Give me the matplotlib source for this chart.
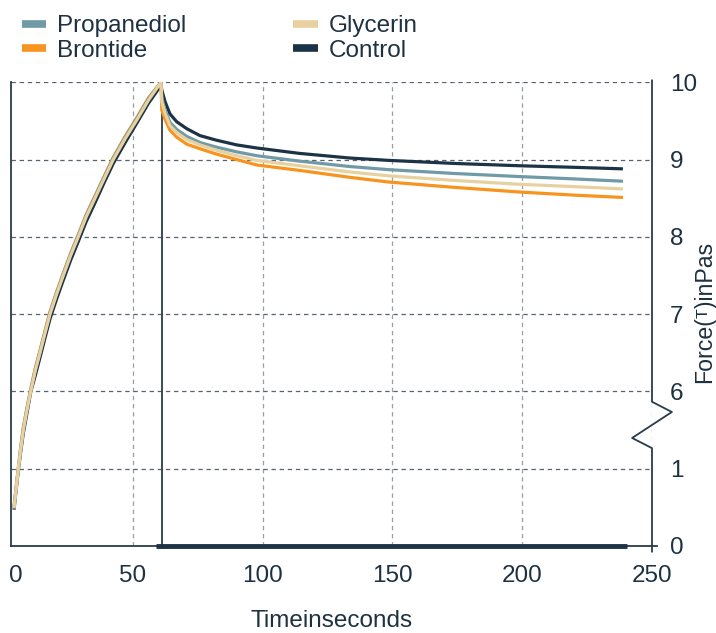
import matplotlib
matplotlib.use("Agg")
import matplotlib.pyplot as plt
import numpy as np
from matplotlib.lines import Line2D

plt.rcParams["font.family"] = ["Liberation Sans", "DejaVu Sans"]

TEXT = "#1e3142"
AXIS = "#2a3b4a"
FS = 17.5

# time axis (seconds)
time = [4.16, 4.97, 5.81, 6.75, 7.74, 9.1, 10.59, 12.3, 14.18, 16, 18.03, 20.5,
        23.15, 26, 28.93, 32, 35.37, 39, 42.42, 47, 51.44, 56, 60.8,
        61.1, 62.35, 64.27, 66.85, 70.71, 75.83, 82.27, 89.97, 97.68, 114.2,
        133.6, 148.4, 174, 199.1, 220, 238.8]

glycerin = [0.485, 0.74, 1.0, 2.25, 3.5, 4.75, 6.0, 6.26, 6.5, 6.74, 7.0, 7.25,
            7.5, 7.76, 8.0, 8.26, 8.5, 8.76, 9.0, 9.27, 9.51, 9.77, 10.0,
            9.75, 9.60, 9.44, 9.35, 9.26, 9.19, 9.12, 9.05, 8.99, 8.92,
            8.84, 8.79, 8.73, 8.68, 8.65, 8.62]
propanediol = [0.5, 0.75, 1.01, 2.35, 3.6, 4.85, 6.02, 6.28, 6.52, 6.76, 7.02, 7.27,
               7.52, 7.78, 8.02, 8.28, 8.52, 8.78, 9.02, 9.29, 9.53, 9.79, 10.0,
               9.80, 9.64, 9.48, 9.39, 9.30, 9.22, 9.16, 9.10, 9.05, 8.98,
               8.91, 8.87, 8.82, 8.78, 8.75, 8.72]
brontide = [0.51, 0.76, 1.02, 2.4, 3.65, 4.9, 6.03, 6.29, 6.53, 6.77, 7.03, 7.28,
            7.53, 7.79, 8.03, 8.29, 8.53, 8.79, 9.03, 9.3, 9.54, 9.8, 10.0,
            9.64, 9.52, 9.38, 9.29, 9.20, 9.14, 9.07, 9.00, 8.93, 8.86,
            8.77, 8.71, 8.64, 8.58, 8.54, 8.51]
control = [0.47, 0.72, 0.98, 2.1, 3.3, 4.55, 5.96, 6.2, 6.44, 6.68, 6.94, 7.19,
           7.44, 7.7, 7.94, 8.2, 8.44, 8.71, 8.95, 9.22, 9.47, 9.73, 9.96,
           9.90, 9.75, 9.59, 9.49, 9.40, 9.31, 9.25, 9.19, 9.15, 9.08,
           9.02, 8.99, 8.95, 8.92, 8.90, 8.88]

# marker of the hold phase
hold_x = [61, 61]
hold_y = [0, 10]
bar_x = [58.9, 240.4]
bar_y = [0, 0]

y_ticks = [0, 1, 6, 7, 8, 9, 10]
x_ticks = [50, 100, 150, 200, 250]

series = [
    ("Control", control, "#1c3346"),
    ("Brontide", brontide, "#f7941d"),
    ("Propanediol", propanediol, "#6f9aa6"),
    ("Glycerin", glycerin, "#e8d1a0"),
]
legend_order = ["Propanediol", "Brontide", "Glycerin", "Control"]


def fwd(y):
    y = np.asarray(y, dtype=float)
    return np.where(y <= 1, y, np.where(y >= 6, y - 4, 1 + (y - 1) / 5))


def inv(d):
    d = np.asarray(d, dtype=float)
    return np.where(d <= 1, d, np.where(d >= 2, d + 4, 1 + (d - 1) * 5))


fig = plt.figure(figsize=(7.16, 6.33), dpi=100)
ax = fig.add_axes([11 / 716, 87 / 633, 641 / 716, 463.7 / 633])
ax.set_yscale("function", functions=(fwd, inv))
ax.set_xlim(3, 250)
ax.set_ylim(0, 10)

handles = {}
for name, vals, col in series:
    ln, = ax.plot(time, vals, color=col, lw=2.3, solid_capstyle="butt",
                  solid_joinstyle="round", zorder=3, label=name)
    handles[name] = ln

ax.plot(hold_x, hold_y, color=AXIS, lw=1.3, zorder=2.5)
ax.plot(bar_x, bar_y, color="#1c3346", lw=3.5, solid_capstyle="butt",
        zorder=5, clip_on=False)

for s in ax.spines.values():
    s.set_visible(False)

ax.yaxis.tick_right()
ax.set_yticks(y_ticks)
ax.set_yticklabels([str(t) for t in y_ticks])
ax.set_xticks(x_ticks)
ax.set_xticklabels([str(t) for t in x_ticks])
ax.set_xticks([5], ["0"], minor=True)
ax.yaxis.set_minor_locator(matplotlib.ticker.NullLocator())
ax.tick_params(which="both", length=0, labelsize=FS, colors=TEXT)
ax.tick_params(axis="y", pad=13)
ax.tick_params(axis="x", which="both", pad=14)

ax.yaxis.grid(True, ls=(0, (3.5, 3)), color="#56636f", lw=0.9)
ax.xaxis.grid(True, which="major", ls=(0, (3.5, 3)), color="#9a9ea3", lw=0.9)
ax.set_axisbelow(True)

# frame: left line, bottom line, right axis with break
ax.add_line(Line2D([0, 0], [0, 1], transform=ax.transAxes, color=AXIS,
                   lw=1.3, clip_on=False, zorder=4))
ax.add_line(Line2D([0, 1.008], [0, 0], transform=ax.transAxes, color=AXIS,
                   lw=1.3, clip_on=False, zorder=4))
ax.add_line(Line2D([1, 1, 1.031, 0.969, 1, 1],
                   [1.004, 0.311, 0.289, 0.233, 0.211, -0.012],
                   transform=ax.transAxes, color=AXIS, lw=1.3,
                   clip_on=False, zorder=4))

ax.set_xlabel("Timeinseconds", fontsize=FS, color=TEXT, labelpad=16)
ax.yaxis.set_label_position("right")
ax.set_ylabel("Force(ᵀ)inPas", fontsize=16.7, color=TEXT)
ax.yaxis.set_label_coords(1.064, 0.505)

leg = fig.legend([handles[n] for n in legend_order], legend_order,
                 loc="upper left", bbox_to_anchor=(22 / 716, 1 - 15 / 633),
                 ncol=2, frameon=False, fontsize=FS, handlelength=1.0,
                 handletextpad=0.45, columnspacing=4.4, labelspacing=0.12,
                 borderaxespad=0, borderpad=0)
for h in leg.legend_handles:
    h.set_linewidth(5.5)
for t in leg.get_texts():
    t.set_color(TEXT)

fig.savefig("out.png", dpi=100)
